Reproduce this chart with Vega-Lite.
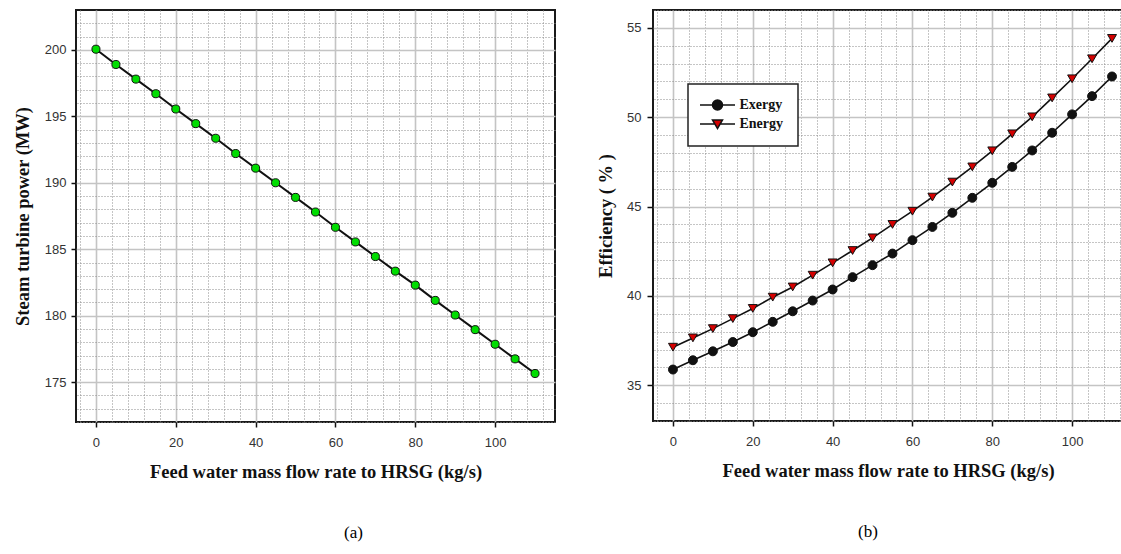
{
  "$schema": "https://vega.github.io/schema/vega-lite/v6.json",
  "padding": {"left": 12, "top": 9, "right": 0, "bottom": 0},
  "background": "white",
  "spacing": 39,
  "config": {
    "view": {"stroke": "#1a1a1a", "strokeWidth": 2},
    "axis": {
      "labelFont": "Liberation Sans", "labelFontSize": 13, "labelColor": "#333333",
      "titleFont": "Liberation Serif", "titleFontSize": 18.5, "titleFontWeight": "bold", "titleColor": "#111111",
      "tickColor": "#111111", "tickSize": 5, "tickWidth": 1.5, "domain": false,
      "gridColor": "#c4c4c4", "gridWidth": 1.6, "minExtent": 0
    },
    "legend": {"strokeWidth": 1.5},
    "title": {"font": "Liberation Serif", "fontSize": 17, "fontWeight": "normal", "color": "#000000"}
  },
  "hconcat": [
    {
      "width": 479, "height": 412,
      "data": {"values": [
        {"x": 0, "power": 200.05}, {"x": 5, "power": 198.9}, {"x": 10, "power": 197.8},
        {"x": 15, "power": 196.7}, {"x": 20, "power": 195.55}, {"x": 25, "power": 194.45},
        {"x": 30, "power": 193.35}, {"x": 35, "power": 192.2}, {"x": 40, "power": 191.1},
        {"x": 45, "power": 190.0}, {"x": 50, "power": 188.9}, {"x": 55, "power": 187.8},
        {"x": 60, "power": 186.65}, {"x": 65, "power": 185.55}, {"x": 70, "power": 184.45},
        {"x": 75, "power": 183.35}, {"x": 80, "power": 182.3}, {"x": 85, "power": 181.15},
        {"x": 90, "power": 180.05}, {"x": 95, "power": 178.95}, {"x": 100, "power": 177.85},
        {"x": 105, "power": 176.75}, {"x": 110, "power": 175.65}
      ]},
      "title": {"text": "(a)", "orient": "bottom", "frame": "group", "offset": 44, "dx": 38},
      "layer": [
        {
          "mark": {"type": "line", "opacity": 0},
          "encoding": {
            "x": {"field": "x", "type": "quantitative",
              "scale": {"domain": [-5, 115], "nice": false, "zero": false},
              "axis": {"orient": "top", "values": [-4, 4, 8, 12, 16, 24, 28, 32, 36, 44, 48, 52, 56, 64, 68, 72, 76, 84, 88, 92, 96, 104, 108, 112],
                "labels": false, "ticks": false, "domain": false, "title": null, "grid": true,
                "gridDash": [1, 2], "gridColor": "#8a8a8a", "gridWidth": 1, "minExtent": 0, "maxExtent": 0}},
            "y": {"field": "power", "type": "quantitative",
              "scale": {"domain": [172, 203], "nice": false, "zero": false},
              "axis": {"orient": "right", "values": [172, 173, 174, 176, 177, 178, 179, 181, 182, 183, 184, 186, 187, 188, 189, 191, 192, 193, 194, 196, 197, 198, 199, 201, 202],
                "labels": false, "ticks": false, "domain": false, "title": null, "grid": true,
                "gridDash": [1, 2], "gridColor": "#8a8a8a", "gridWidth": 1, "minExtent": 0, "maxExtent": 0}}
          }
        },
        {
          "mark": {"type": "line", "color": "#111111", "strokeWidth": 2},
          "encoding": {
            "x": {"field": "x", "type": "quantitative",
              "axis": {"orient": "bottom", "values": [0, 20, 40, 60, 80, 100], "grid": true,
                "title": "Feed water mass flow rate to HRSG (kg/s)", "labelPadding": 9, "titlePadding": 13}},
            "y": {"field": "power", "type": "quantitative",
              "axis": {"orient": "left", "values": [175, 180, 185, 190, 195, 200], "grid": true,
                "title": "Steam turbine power (MW)", "labelPadding": 5, "titlePadding": 12}}
          }
        },
        {
          "mark": {"type": "point", "filled": true, "fill": "#00dd00", "stroke": "#111111", "strokeWidth": 1, "size": 65, "opacity": 1},
          "encoding": {
            "x": {"field": "x", "type": "quantitative", "axis": null},
            "y": {"field": "power", "type": "quantitative", "axis": null}
          }
        }
      ],
      "resolve": {"axis": {"x": "independent", "y": "independent"}}
    },
    {
      "width": 470, "height": 411,
      "data": {"values": [
        {"x": 0, "eff": 35.88, "series": "Exergy"}, {"x": 5, "eff": 36.4, "series": "Exergy"},
        {"x": 10, "eff": 36.9, "series": "Exergy"}, {"x": 15, "eff": 37.42, "series": "Exergy"},
        {"x": 20, "eff": 37.97, "series": "Exergy"}, {"x": 25, "eff": 38.55, "series": "Exergy"},
        {"x": 30, "eff": 39.14, "series": "Exergy"}, {"x": 35, "eff": 39.74, "series": "Exergy"},
        {"x": 40, "eff": 40.36, "series": "Exergy"}, {"x": 45, "eff": 41.05, "series": "Exergy"},
        {"x": 50, "eff": 41.72, "series": "Exergy"}, {"x": 55, "eff": 42.37, "series": "Exergy"},
        {"x": 60, "eff": 43.12, "series": "Exergy"}, {"x": 65, "eff": 43.86, "series": "Exergy"},
        {"x": 70, "eff": 44.65, "series": "Exergy"}, {"x": 75, "eff": 45.49, "series": "Exergy"},
        {"x": 80, "eff": 46.33, "series": "Exergy"}, {"x": 85, "eff": 47.22, "series": "Exergy"},
        {"x": 90, "eff": 48.14, "series": "Exergy"}, {"x": 95, "eff": 49.13, "series": "Exergy"},
        {"x": 100, "eff": 50.16, "series": "Exergy"}, {"x": 105, "eff": 51.18, "series": "Exergy"},
        {"x": 110, "eff": 52.28, "series": "Exergy"},
        {"x": 0, "eff": 37.13, "series": "Energy"}, {"x": 5, "eff": 37.65, "series": "Energy"},
        {"x": 10, "eff": 38.17, "series": "Energy"}, {"x": 15, "eff": 38.73, "series": "Energy"},
        {"x": 20, "eff": 39.3, "series": "Energy"}, {"x": 25, "eff": 39.93, "series": "Energy"},
        {"x": 30, "eff": 40.5, "series": "Energy"}, {"x": 35, "eff": 41.16, "series": "Energy"},
        {"x": 40, "eff": 41.85, "series": "Energy"}, {"x": 45, "eff": 42.54, "series": "Energy"},
        {"x": 50, "eff": 43.25, "series": "Energy"}, {"x": 55, "eff": 44.0, "series": "Energy"},
        {"x": 60, "eff": 44.74, "series": "Energy"}, {"x": 65, "eff": 45.53, "series": "Energy"},
        {"x": 70, "eff": 46.37, "series": "Energy"}, {"x": 75, "eff": 47.22, "series": "Energy"},
        {"x": 80, "eff": 48.12, "series": "Energy"}, {"x": 85, "eff": 49.07, "series": "Energy"},
        {"x": 90, "eff": 50.02, "series": "Energy"}, {"x": 95, "eff": 51.08, "series": "Energy"},
        {"x": 100, "eff": 52.15, "series": "Energy"}, {"x": 105, "eff": 53.27, "series": "Energy"},
        {"x": 110, "eff": 54.41, "series": "Energy"}
      ]},
      "title": {"text": "(b)", "orient": "bottom", "frame": "group", "offset": 44, "dx": -20},
      "layer": [
        {
          "mark": {"type": "line", "opacity": 0},
          "encoding": {
            "detail": {"field": "series"},
            "x": {"field": "x", "type": "quantitative",
              "scale": {"domain": [-5, 112.75], "nice": false, "zero": false},
              "axis": {"orient": "top", "values": [-4, 4, 8, 12, 16, 24, 28, 32, 36, 44, 48, 52, 56, 64, 68, 72, 76, 84, 88, 92, 96, 104, 108, 112],
                "labels": false, "ticks": false, "domain": false, "title": null, "grid": true,
                "gridDash": [1, 2], "gridColor": "#8a8a8a", "gridWidth": 1, "minExtent": 0, "maxExtent": 0}},
            "y": {"field": "eff", "type": "quantitative",
              "scale": {"domain": [33, 56], "nice": false, "zero": false},
              "axis": {"orient": "right", "values": [33, 34, 36, 37, 38, 39, 41, 42, 43, 44, 46, 47, 48, 49, 51, 52, 53, 54, 56],
                "labels": false, "ticks": false, "domain": false, "title": null, "grid": true,
                "gridDash": [1, 2], "gridColor": "#8a8a8a", "gridWidth": 1, "minExtent": 0, "maxExtent": 0}}
          }
        },
        {
          "mark": {"type": "line", "color": "#111111", "strokeWidth": 1.6},
          "encoding": {
            "detail": {"field": "series"},
            "x": {"field": "x", "type": "quantitative",
              "axis": {"orient": "bottom", "values": [0, 20, 40, 60, 80, 100], "grid": true,
                "title": "Feed water mass flow rate to HRSG (kg/s)", "labelPadding": 9, "titlePadding": 13}},
            "y": {"field": "eff", "type": "quantitative",
              "axis": {"orient": "left", "values": [35, 40, 45, 50, 55], "grid": true,
                "title": "Efficiency ( % )", "tickSize": 6, "labelPadding": 6, "titlePadding": 11}}
          }
        },
        {
          "transform": [{"filter": "datum.series === 'Exergy'"}],
          "mark": {"type": "point", "shape": "circle", "filled": true, "fill": "#111111", "stroke": "#111111", "strokeWidth": 1, "size": 80, "opacity": 1},
          "encoding": {
            "x": {"field": "x", "type": "quantitative", "axis": null},
            "y": {"field": "eff", "type": "quantitative", "axis": null}
          }
        },
        {
          "transform": [{"filter": "datum.series === 'Energy'"}],
          "mark": {"type": "point", "shape": "triangle-down", "filled": true, "fill": "#d40000", "stroke": "#111111", "strokeWidth": 1, "size": 80, "opacity": 1},
          "encoding": {
            "x": {"field": "x", "type": "quantitative", "axis": null},
            "y": {"field": "eff", "type": "quantitative", "axis": null}
          }
        },
        {
          "mark": {"type": "point", "filled": true, "stroke": "#111111", "strokeWidth": 1, "size": 0, "opacity": 1},
          "encoding": {
            "x": {"field": "x", "type": "quantitative", "axis": null},
            "y": {"field": "eff", "type": "quantitative", "axis": null},
            "fill": {"field": "series", "type": "nominal",
              "scale": {"domain": ["Exergy", "Energy"], "range": ["#111111", "#d40000"]},
              "legend": {
                "orient": "none", "legendX": 612, "legendY": 74, "title": null,
                "fillColor": "white", "strokeColor": "#222222", "padding": 14,
                "labelFont": "Liberation Serif", "labelFontSize": 14, "labelFontWeight": "bold", "labelColor": "#111111",
                "symbolStrokeColor": "#111111", "symbolStrokeWidth": 1.5, "symbolSize": 100,
                "symbolOffset": 8.5, "labelOffset": 15, "rowPadding": 4
              }},
            "shape": {"field": "series", "type": "nominal",
              "scale": {"domain": ["Exergy", "Energy"],
                "range": ["M-3.5,0H-1M1,0H3.5M-1,0A1,1 0 1,1 1,0A1,1 0 1,1 -1,0Z", "M-3.5,0H-0.53M0.53,0H3.5M-1,-0.8L1,-0.8L0,0.9Z"]}}
          }
        }
      ],
      "resolve": {"axis": {"x": "independent", "y": "independent"}}
    }
  ]
}
